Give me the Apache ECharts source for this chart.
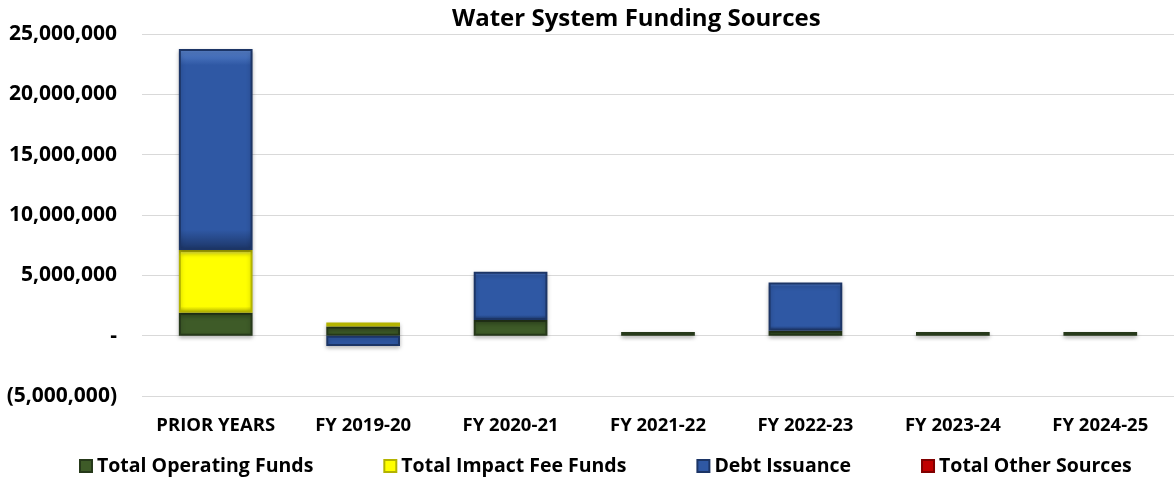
<!DOCTYPE html>
<html>
<head>
<meta charset="utf-8">
<script src="https://cdn.jsdelivr.net/npm/echarts@6/dist/echarts.min.js"></script>
<style>
  html, body { margin: 0; padding: 0; background: #fff; }
  #chart { width: 1174px; height: 482px; }
</style>
</head>
<body>
<div id="chart"></div>
<script>
const categories = ['PRIOR YEARS', 'FY 2019-20', 'FY 2020-21', 'FY 2021-22', 'FY 2022-23', 'FY 2023-24', 'FY 2024-25'];
const operatingFunds = [1900000, 750000, 1300000, 300000, 400000, 300000, 300000];
const impactFeeFunds = [5200000, 350000, 0, 0, 0, 0, 0];
const debtIssuance = [16650000, -850000, 4000000, 0, 4000000, 0, 0];
const otherSources = [0, 0, 0, 0, 0, 0, 0];

const font = '"Open Sans", sans-serif';

function fmt(v) {
  if (v === 0) return '-';
  const s = Math.abs(v).toLocaleString('en-US');
  return v < 0 ? '(' + s + ')' : s;
}

// bevel-ish look: gradient fill + darker border
function barStyle(light, base, dark) {
  return {
    color: new echarts.graphic.LinearGradient(0, 0, 0, 1, [
      { offset: 0, color: light },
      { offset: 0.08, color: base },
      { offset: 0.9, color: base },
      { offset: 1, color: dark }
    ]),
    borderColor: dark,
    borderWidth: 2,
    shadowColor: 'rgba(0,0,0,0.25)',
    shadowBlur: 4,
    shadowOffsetY: 2
  };
}

function makeSeries(name, data, style) {
  return {
    name: name,
    type: 'bar',
    stack: 'total',
    barWidth: '50%',
    // zero values are not drawn at all (no border line)
    data: data.map(v => (v === 0 ? null : v)),
    itemStyle: style
  };
}

const chart = echarts.init(document.getElementById('chart'));
chart.setOption({
  animation: false,
  title: {
    text: 'Water System Funding Sources',
    left: 447,
    top: 2,
    textStyle: { fontFamily: font, fontSize: 24, fontWeight: 'bold', color: '#000' }
  },
  legend: {
    bottom: 1,
    left: 74,
    itemGap: 70,
    itemWidth: 12,
    itemHeight: 12,
    icon: 'rect',
    textStyle: { fontFamily: font, fontSize: 19.5, fontWeight: 'bold', color: '#000' },
    data: ['Total Operating Funds', 'Total Impact Fee Funds', 'Debt Issuance', 'Total Other Sources']
  },
  grid: { left: 142, right: 0, top: 34, bottom: 86, containLabel: false },
  xAxis: {
    type: 'category',
    data: categories,
    axisLine: { show: false },
    axisTick: { show: false },
    axisLabel: { interval: 0, fontFamily: font, fontSize: 18.5, fontWeight: 'bold', color: '#000', margin: 20 }
  },
  yAxis: {
    type: 'value',
    min: -5000000,
    max: 25000000,
    interval: 5000000,
    axisLine: { show: false },
    axisTick: { show: false },
    splitLine: { lineStyle: { color: '#d9d9d9', width: 1 } },
    axisLabel: { formatter: fmt, fontFamily: font, fontSize: 21, fontWeight: 'bold', color: '#000', margin: 25 }
  },
  series: [
    makeSeries('Total Operating Funds', operatingFunds, barStyle('#6a8f4c', '#3e5b28', '#26391a')),
    makeSeries('Total Impact Fee Funds', impactFeeFunds, barStyle('#ffff66', '#ffff00', '#b3b300')),
    makeSeries('Debt Issuance', debtIssuance, barStyle('#5b86d0', '#2f58a4', '#1c3566')),
    makeSeries('Total Other Sources', otherSources, barStyle('#e04040', '#c00000', '#800000'))
  ]
});
</script>
</body>
</html>
